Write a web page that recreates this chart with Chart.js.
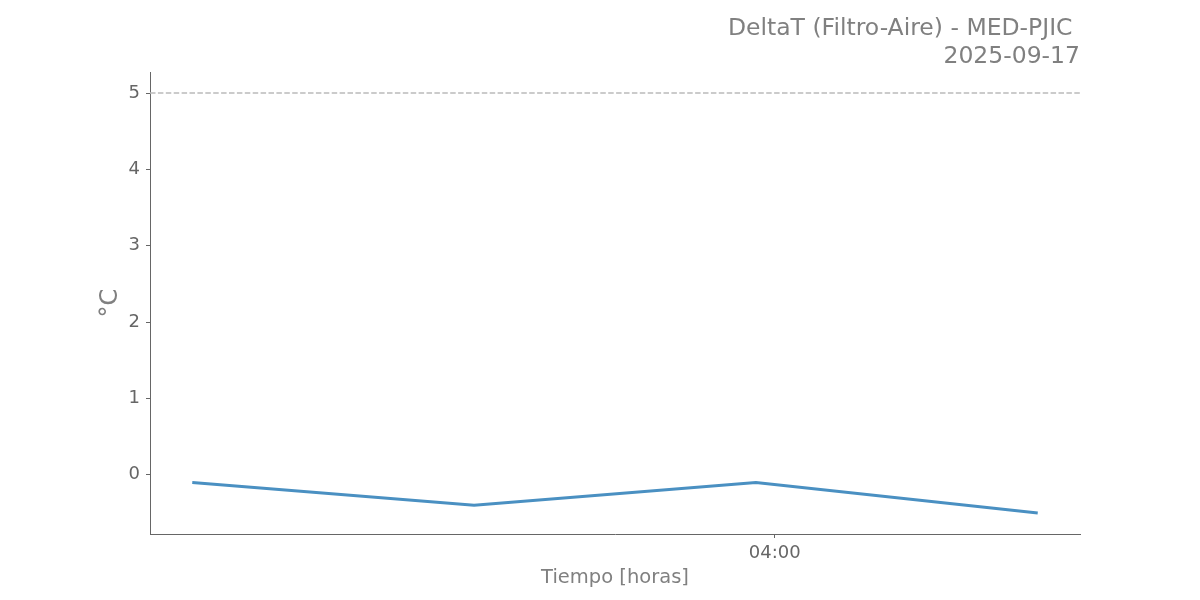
<!DOCTYPE html>
<html>
<head>
<meta charset="utf-8">
<script src="https://cdn.jsdelivr.net/npm/chart.js@4/dist/chart.umd.min.js"></script>
<style>
  html, body { margin: 0; padding: 0; background: #ffffff; }
  #wrap { width: 1200px; height: 600px; }
</style>
</head>
<body>
<div id="wrap"><canvas id="c" width="1200" height="600"></canvas></div>
<script>
// ---- data (times in minutes since 00:00) ----
const times = [116, 176, 236, 296];
const deltaT = [-0.1, -0.4, -0.1, -0.5];
const thresholdValue = 5;
const xTickValues = [240];
const xTickLabels = ['04:00'];
const yTickValues = [0, 1, 2, 3, 4, 5];
const titleLines = ['DeltaT (Filtro-Aire) - MED-PJIC ', '2025-09-17'];
const xTitle = 'Tiempo [horas]';
const yTitle = '°C';

// axis limits with 5% margins (matplotlib-like)
const xSpan = times[times.length - 1] - times[0];
const xMin = times[0] - 0.05 * xSpan;
const xMax = times[times.length - 1] + 0.05 * xSpan;
const yLo = Math.min(...deltaT, thresholdValue);
const yHi = Math.max(...deltaT, thresholdValue);
const ySpan = yHi - yLo;
const yMin = yLo - 0.05 * ySpan;
const yMax = yHi + 0.05 * ySpan;

const FONT = '"DejaVu Sans", "Liberation Sans", sans-serif';

new Chart(document.getElementById('c'), {
  type: 'line',
  data: {
    datasets: [
      {
        label: 'Umbral',
        data: [{x: xMin, y: thresholdValue}, {x: xMax, y: thresholdValue}],
        borderColor: '#bbbbbb',
        borderWidth: 1.5,
        borderDash: [5.5, 2.4],
        pointRadius: 0,
        fill: false,
        tension: 0
      },
      {
        label: 'DeltaT',
        data: times.map((t, i) => ({x: t, y: deltaT[i]})),
        borderColor: '#4a90c2',
        borderWidth: 3,
        pointRadius: 0,
        fill: false,
        tension: 0
      }
    ]
  },
  options: {
    responsive: false,
    animation: false,
    devicePixelRatio: 1,
    layout: { padding: { left: 0, right: 120, top: 0, bottom: 0 } },
    plugins: {
      legend: { display: false },
      tooltip: { enabled: false },
      title: {
        display: true,
        text: titleLines,
        align: 'end',
        fullSize: false,
        color: '#808080',
        font: { family: FONT, size: 23.5, weight: 'normal', lineHeight: 1.2 },
        padding: { top: 15, bottom: 0.6 }
      }
    },
    scales: {
      x: {
        type: 'linear',
        min: xMin,
        max: xMax,
        afterFit: (s) => { s.height = 66; },
        afterBuildTicks: (s) => { s.ticks = xTickValues.map(v => ({value: v})); },
        ticks: {
          color: '#666666',
          font: { family: FONT, size: 18 },
          padding: 5,
          maxRotation: 0,
          autoSkip: false,
          callback: (v) => { const i = xTickValues.indexOf(v); return i >= 0 ? xTickLabels[i] : ''; }
        },
        grid: { display: true, drawOnChartArea: false, drawTicks: true, tickLength: 4, tickColor: '#666666', tickWidth: 1 },
        border: { display: true, color: '#666666', width: 1 },
        title: {
          display: true,
          text: xTitle,
          color: '#808080',
          font: { family: FONT, size: 19.5, lineHeight: 1.2 },
          padding: { top: 0, bottom: 10.6 }
        }
      },
      y: {
        type: 'linear',
        min: yMin,
        max: yMax,
        afterFit: (s) => { s.width = 150; },
        afterBuildTicks: (s) => { s.ticks = yTickValues.map(v => ({value: v})); },
        ticks: {
          color: '#666666',
          font: { family: FONT, size: 18 },
          padding: 6,
          autoSkip: false,
          callback: (v) => String(v)
        },
        grid: { display: true, drawOnChartArea: false, drawTicks: true, tickLength: 4, tickColor: '#666666', tickWidth: 1 },
        border: { display: true, color: '#666666', width: 1 },
        title: {
          display: true,
          text: yTitle,
          color: '#808080',
          font: { family: FONT, size: 24, lineHeight: 1.2 },
          padding: { top: 96, bottom: 0 }
        }
      }
    }
  }
});
</script>
</body>
</html>
